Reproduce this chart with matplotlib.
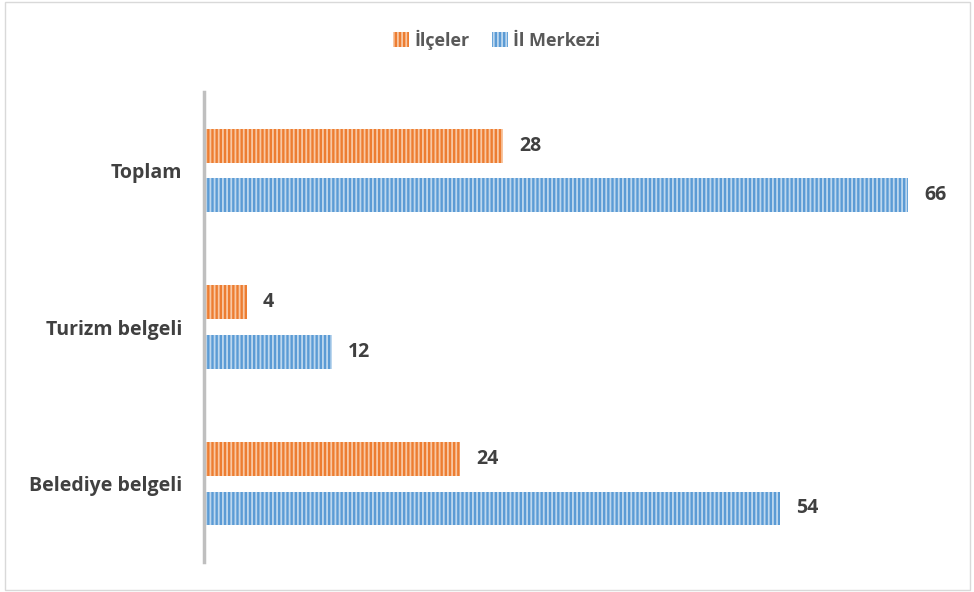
import matplotlib.pyplot as plt
from matplotlib.patches import Rectangle
import numpy as np

categories = ["Belediye belgeli", "Turizm belgeli", "Toplam"]
ilceler = [24, 4, 28]
il_merkezi = [54, 12, 66]

ORANGE = "#ED7D31"
ORANGE_LIGHT = "#F8C8A4"
BLUE = "#5B9BD5"
BLUE_LIGHT = "#BDD7EE"
TEXT = "#404040"

plt.rcParams["font.family"] = ["Open Sans", "DejaVu Sans"]
plt.rcParams["hatch.linewidth"] = 1.3

fig = plt.figure(figsize=(9.74, 5.92), dpi=100)
ax = fig.add_axes([204 / 974, 1 - 562 / 592, (951 - 204) / 974, (562 - 92) / 592])

y = np.arange(len(categories))
h = 0.217
gap = 0.10

b1 = ax.barh(y + (h + gap) / 2, ilceler, height=h, color=ORANGE,
             edgecolor=ORANGE_LIGHT, linewidth=0, hatch="||||", label="İlçeler")
b2 = ax.barh(y - (h + gap) / 2, il_merkezi, height=h, color=BLUE,
             edgecolor=BLUE_LIGHT, linewidth=0, hatch="||||", label="İl Merkezi")

for bars in (b1, b2):
    for bar in bars:
        w = bar.get_width()
        ax.text(w + 1.5, bar.get_y() + bar.get_height() / 2, f"{w:g}",
                va="center", ha="left", fontsize=14, fontweight="bold", color=TEXT)

ax.set_xlim(0, 70)
ax.set_ylim(-0.5, 2.5)
ax.set_yticks(y)
ax.set_yticklabels(categories, fontsize=14, fontweight="bold", color=TEXT)
ax.tick_params(axis="y", length=0, pad=16)
ax.set_xticks([])
for side in ("top", "right", "bottom"):
    ax.spines[side].set_visible(False)
ax.spines["left"].set_color("#BFBFBF")
ax.spines["left"].set_linewidth(2.5)

leg = fig.legend(handles=[b1, b2], loc="center", bbox_to_anchor=(0.51, 1 - 40 / 592),
                 ncol=2, frameon=False, handlelength=0.9, handleheight=0.9,
                 handletextpad=0.3, columnspacing=1.2,
                 prop={"size": 13, "weight": "bold"})
for t in leg.get_texts():
    t.set_color("#595959")

fig.patches.append(Rectangle((5 / 974, 1 - 590 / 592), 965 / 974, 588 / 592,
                             transform=fig.transFigure, fill=False,
                             edgecolor="#D9D9D9", linewidth=1))

fig.savefig("out.png", dpi=100)
